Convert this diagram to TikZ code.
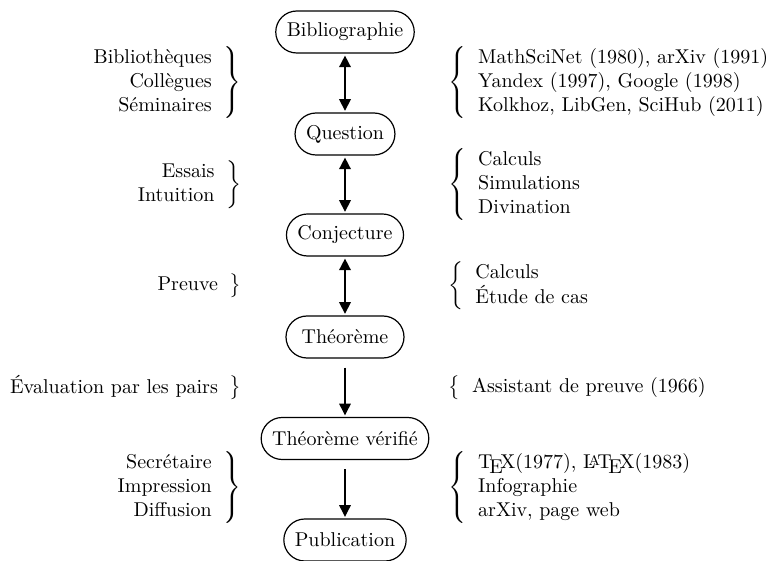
\documentclass[tikz,border=0pt]{standalone}
\usepackage{fontspec}
\usetikzlibrary{arrows.meta}

\tikzset{
  stage/.style={draw, line width=0.6pt, rounded corners=10.5pt,
    minimum height=21pt, inner xsep=5.5pt, inner ysep=0pt},
  lgroup/.style={inner sep=0pt, anchor=east},
  rgroup/.style={inner sep=0pt, anchor=west},
  both/.style={{Triangle[length=5.8pt,width=5.8pt]}-{Triangle[length=5.8pt,width=5.8pt]},
    line width=0.8pt, shorten <=1pt, shorten >=0.8pt},
  onward/.style={-{Triangle[length=5.8pt,width=5.8pt]},
    line width=0.6pt, shorten <=4.5pt, shorten >=0.8pt}
}

\begin{document}
\begin{tikzpicture}[x=0.5pt, y=-0.5pt]
\useasboundingbox (0,0) rectangle (767,561);

% the chain of stages
\node[stage] (bib) at (345,32)    {Bibliographie};
\node[stage] (que) at (345,134)   {Question};
\node[stage] (con) at (345,235)   {Conjecture};
\node[stage, minimum width=59pt] (the) at (345,337) {Théorème};
\node[stage] (ver) at (345,438.5) {Théorème vérifié};
\node[stage] (pub) at (345,540)   {Publication};

\draw[both]   (bib) -- (que);
\draw[both]   (que) -- (con);
\draw[both]   (con) -- (the);
\draw[onward] (the) -- (ver);
\draw[onward] (ver) -- (pub);

% human means, on the left
\node[lgroup] (l1) at (242,83)
  {$\left.\begin{tabular}{@{}r}Bibliothèques\\Collègues\\Séminaires\end{tabular}\right\}$};
\node[lgroup] (l2) at (242,184.5)
  {$\left.\begin{tabular}{@{}r}Essais\\Intuition\end{tabular}\right\}$};
\node[lgroup] (l3) at (242,286)
  {$\left.\begin{tabular}{@{}r}Preuve\end{tabular}\right\}$};
\node[lgroup] (l4) at (242,388)
  {$\left.\begin{tabular}{@{}r}Évaluation par les pairs\end{tabular}\right\}$};
\node[lgroup] (l5) at (242,488)
  {$\left.\begin{tabular}{@{}r}Secrétaire\\Impression\\Diffusion\end{tabular}\right\}$};

% tools, on the right
\node[rgroup] (r1) at (448,83)
  {$\left\{\begin{tabular}{l@{}}MathSciNet (1980), arXiv (1991)\\Yandex (1997), Google (1998)\\Kolkhoz, LibGen, SciHub (2011)\end{tabular}\right.$};
\node[rgroup] (r2) at (448,184.5)
  {$\left\{\begin{tabular}{l@{}}Calculs\\Simulations\\Divination\end{tabular}\right.$};
\node[rgroup] (r3) at (448,286)
  {$\left\{\begin{tabular}{l@{}}Calculs\\Étude de cas\end{tabular}\right.$};
\node[rgroup] (r4) at (448,388)
  {$\left\{\begin{tabular}{l@{}}Assistant de preuve (1966)\end{tabular}\right.$};
\node[rgroup] (r5) at (448,488)
  {$\left\{\begin{tabular}{l@{}}\TeX(1977), \LaTeX(1983)\\Infographie\\arXiv, page web\end{tabular}\right.$};
\end{tikzpicture}
\end{document}
